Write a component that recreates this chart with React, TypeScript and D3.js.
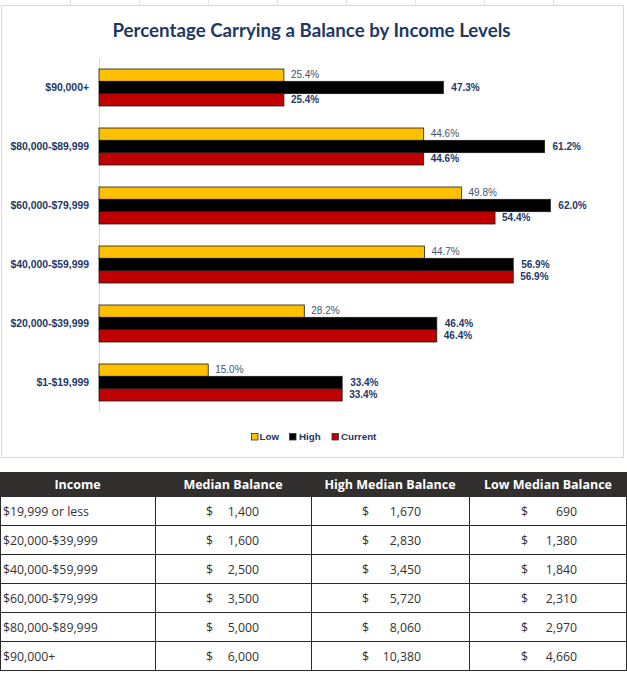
import React from "react";
import * as d3 from "d3";

const categories = ["$1-$19,999", "$20,000-$39,999", "$40,000-$59,999", "$60,000-$79,999", "$80,000-$89,999", "$90,000+"];
const seriesNames = ["Low", "High", "Current"];
const lowValues = [15.0, 28.2, 44.7, 49.8, 44.6, 25.4];
const highValues = [33.4, 46.4, 56.9, 62.0, 61.2, 47.3];
const currentValues = [33.4, 46.4, 56.9, 54.4, 44.6, 25.4];

const tableHeaders = ["Income", "Median Balance", "High Median Balance", "Low Median Balance"];
const tableIncome = ["$19,999 or less", "$20,000-$39,999", "$40,000-$59,999", "$60,000-$79,999", "$80,000-$89,999", "$90,000+"];
const medianBalance = [1400, 1600, 2500, 3500, 5000, 6000];
const highMedianBalance = [1670, 2830, 3450, 5720, 8060, 10380];
const lowMedianBalance = [690, 1380, 1840, 2310, 2970, 4660];

const W = 627;
const H = 673;
const NAVY = "#1F3864";
const LOWLBL = "#44546A";
const colors: Record<string, string> = { Low: "#FFC000", High: "#000000", Current: "#C00000" };
const seriesValues: Record<string, number[]> = { Low: lowValues, High: highValues, Current: currentValues };

export default function App() {
  const x = d3.scaleLinear().domain([0, 70]).range([99, 99 + 7.28 * 70]);
  const y = d3
    .scaleBand<string>()
    .domain([...categories].reverse())
    .range([58, 412])
    .paddingInner(0.373)
    .paddingOuter(0.1865);
  const sub = d3.scaleBand<string>().domain(seriesNames).range([0, y.bandwidth()]);
  const fmt = d3.format(".1f");
  const money = d3.format(",");

  const colEdges = [0, 155, 311, 469, 627];
  const headerTop = 472;
  const headerBottom = 497;
  const rowY = d3.scaleBand<number>().domain(d3.range(tableIncome.length)).range([headerBottom, 671]);
  const moneyCols = [
    { vals: medianBalance, dollarX: 206, numX: 259 },
    { vals: highMedianBalance, dollarX: 362, numX: 421 },
    { vals: lowMedianBalance, dollarX: 521, numX: 577 },
  ];

  const legendItems = [
    { name: "Low", sx: 251, tx: 259.5 },
    { name: "High", sx: 289, tx: 299 },
    { name: "Current", sx: 331.5, tx: 341 },
  ];

  return (
    <svg width={W} height={H} style={{ position: "absolute", left: 0, top: 0, background: "#fff" }}>
      {d3.range(8).map((i) => (
        <line key={"g" + i} x1={70.5 + i * 69} x2={70.5 + i * 69} y1={0} y2={5} stroke="#e3e3e3" />
      ))}
      <rect x={1.5} y={5.5} width={622} height={452} fill="#fff" stroke="#d9d9d9" />
      <text x={311.5} y={36.5} textAnchor="middle" fontFamily="Lato" fontWeight={700} fontSize={18.7} fill={NAVY}>
        Percentage Carrying a Balance by Income Levels
      </text>
      <line x1={99.5} x2={99.5} y1={58} y2={412} stroke="#d9d9d9" />
      {categories.map((c, ci) => (
        <g key={c} transform={`translate(0,${y(c)})`}>
          <text
            x={89}
            y={y.bandwidth() / 2}
            dy="0.35em"
            textAnchor="end"
            fontFamily="Liberation Sans"
            fontWeight={700}
            fontSize={10.4}
            fill={NAVY}
          >
            {c}
          </text>
          {seriesNames.map((s) => {
            const v = seriesValues[s][ci];
            return (
              <g key={s}>
                <rect
                  x={x(0)}
                  y={sub(s)!}
                  width={x(v) - x(0)}
                  height={sub.bandwidth()}
                  fill={colors[s]}
                  stroke="#1a1a1a"
                  strokeWidth={0.8}
                />
                <text
                  x={x(v) + (s === "High" ? 8 : 7)}
                  y={sub(s)! + sub.bandwidth() / 2 - (s === "Low" ? 0.5 : 0)}
                  dy="0.35em"
                  fontFamily="Liberation Sans"
                  fontWeight={s === "Low" ? 400 : 700}
                  fontSize={10}
                  fill={s === "Low" ? LOWLBL : NAVY}
                >
                  {fmt(v) + "%"}
                </text>
              </g>
            );
          })}
        </g>
      ))}
      {legendItems.map((it) => (
        <g key={it.name}>
          <rect x={it.sx + 0.5} y={433.5} width={6.5} height={6.5} fill={colors[it.name]} stroke="#333" strokeWidth={0.8} />
          <text x={it.tx} y={437} dy="0.35em" fontFamily="Liberation Sans" fontWeight={700} fontSize={9.8} fill={NAVY}>
            {it.name}
          </text>
        </g>
      ))}

      <rect x={0} y={headerTop} width={W} height={headerBottom - headerTop} fill="#32302e" />
      {tableHeaders.map((h, i) => (
        <text
          key={h}
          x={(colEdges[i] + colEdges[i + 1]) / 2}
          y={(headerTop + headerBottom) / 2}
          dy="0.35em"
          textAnchor="middle"
          fontFamily="Open Sans"
          fontWeight={700}
          fontSize={12.5}
          fill="#ffffff"
        >
          {h}
        </text>
      ))}
      {tableIncome.map((r, ri) => {
        const top = rowY(ri)!;
        const cy = top + rowY.bandwidth() / 2;
        return (
          <g key={r}>
            <text x={3} y={cy} dy="0.35em" fontFamily="Open Sans" fontSize={12.3} fill="#333">
              {r}
            </text>
            {moneyCols.map((mc, mi) => (
              <g key={mi}>
                <text x={mc.dollarX} y={cy} dy="0.35em" fontFamily="Open Sans" fontSize={12.3} fill="#333">
                  $
                </text>
                <text x={mc.numX} y={cy} dy="0.35em" textAnchor="end" fontFamily="Open Sans" fontSize={12.3} fill="#333">
                  {money(mc.vals[ri])}
                </text>
              </g>
            ))}
            <line x1={0} x2={W} y1={top + rowY.bandwidth() - 0.5} y2={top + rowY.bandwidth() - 0.5} stroke="#2b2b2b" />
          </g>
        );
      })}
      {[0.5, 155.5, 311.5, 469.5, 626.5].map((vx) => (
        <line key={vx} x1={vx} x2={vx} y1={headerBottom} y2={rowY.range()[1]} stroke="#2b2b2b" />
      ))}
    </svg>
  );
}
